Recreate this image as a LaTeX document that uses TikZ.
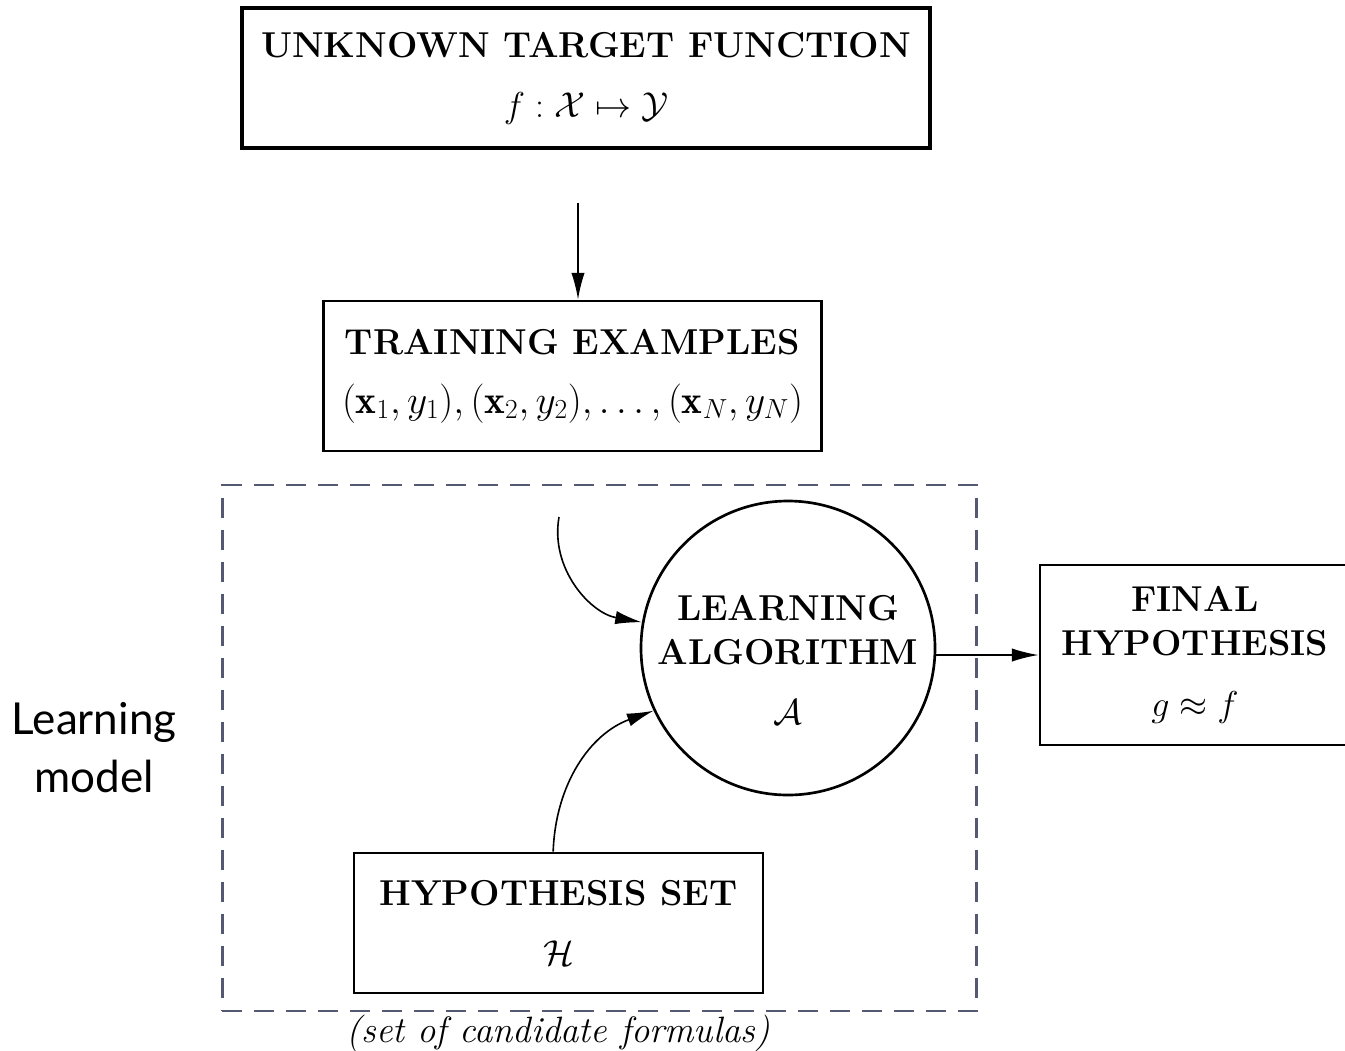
\RequirePackage{fix-cm}
\documentclass[tikz,border=0pt]{standalone}
\usepackage{fontspec}
\newfontfamily\modelfont{Lato}
\usetikzlibrary{arrows.meta,positioning}

\definecolor{framegray}{RGB}{84,88,112}

\tikzset{
  boxnode/.style={draw, line width=2.2pt, align=center, inner sep=0pt, font=\bfseries\fontsize{27}{33}\selectfont},
  flow/.style={line width=1.2pt, -{Latex[length=20pt,width=10pt]}},
  modelframe/.style={draw=framegray, line width=2.2pt, dash pattern=on 15pt off 9pt}
}

\begin{document}
\begin{tikzpicture}[x=0.75pt,y=0.75pt,yscale=-1,xscale=1]
\useasboundingbox (0,0) rectangle (1345,1050);

%Shape: Rectangle
\node[boxnode, line width=2.8pt, minimum width=516pt, minimum height=105pt] (target) at (586,78) {UNKNOWN TARGET FUNCTION\\[12pt]$f:\mathcal{X}\mapsto\mathcal{Y}$};
%Shape: Rectangle
\node[boxnode, minimum width=374pt, minimum height=112.5pt] (train) at (572.5,376) {TRAINING EXAMPLES\\[11pt]\fontsize{29.5}{33}\selectfont$(\mathbf{x}_1,y_1),(\mathbf{x}_2,y_2),\dots,(\mathbf{x}_N,y_N)$};
%Shape: Rectangle
\node[modelframe, minimum width=566pt, minimum height=394.5pt] (model) at (599.5,748) {};
%Shape: Circle
\node[draw, circle, line width=2pt, minimum size=220.5pt] (algo) at (788,648) {};
\node[align=center, inner sep=0pt, font=\bfseries\fontsize{27}{33}\selectfont] (algotext) at (788,660) {LEARNING\\ALGORITHM\\[12pt]$\mathcal{A}$};
%Shape: Rectangle
\node[boxnode, minimum width=306.75pt, minimum height=105pt] (hyp) at (558.5,923) {HYPOTHESIS SET\\[12pt]$\mathcal{H}$};
%Shape: Rectangle
\node[boxnode, minimum width=232.5pt, minimum height=135pt] (final) at (1195,655) {FINAL\\HYPOTHESIS\\[13pt]$g\approx f$};

\coordinate (capref) at (hyp.south |- model.south);
%Text Node
\node[inner sep=0pt, font=\itshape\fontsize{27.5}{30}\selectfont, below=2pt of capref] (formulas) {(set of candidate formulas)};
%Text Node
\node[inner sep=0pt, align=center, font=\modelfont\fontsize{33}{43.5}\selectfont, left=33pt of model] (modellabel) {Learning\\model};

\coordinate (src) at (578,203);
\coordinate (feed) at (559,517);

%Straight Lines
\draw[flow] (src) -- (src |- train.north);
%Curve Lines
\draw[flow] (feed) to[out=100,in=-170] (algo.170);
%Curve Lines
\draw[flow] ([xshift=-4pt]hyp.north) to[out=-88,in=160] (algo.205);
%Straight Lines
\draw[flow] (final.west -| algo.east) -- (final.west);

\end{tikzpicture}
\end{document}
